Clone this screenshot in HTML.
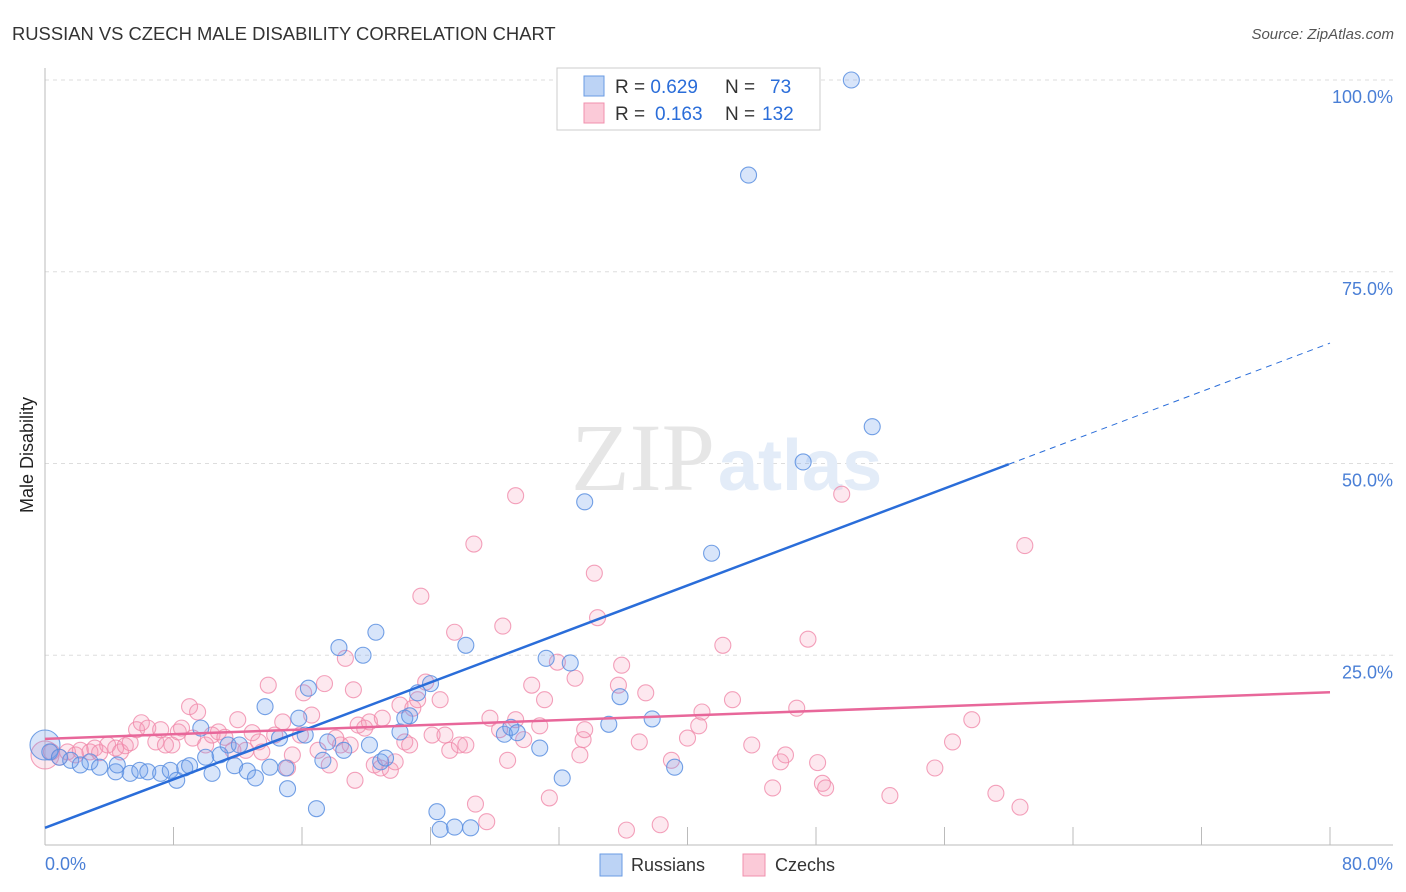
<!DOCTYPE html>
<html><head><meta charset="utf-8"><style>
body{margin:0;background:#fff;font-family:"Liberation Sans",sans-serif}
svg{display:block}
</style></head><body>
<svg id="chart" width="1406" height="892">
<text x="12" y="40" font-size="18.4" fill="#333">RUSSIAN VS CZECH MALE DISABILITY CORRELATION CHART</text>
<text x="1394" y="39" font-size="15" fill="#555" font-style="italic" text-anchor="end">Source: ZipAtlas.com</text>
<text x="33" y="455" font-size="18" fill="#222" text-anchor="middle" transform="rotate(-90 33 455)">Male Disability</text>
<g id="grid"></g>
<text x="715" y="490" font-size="96" fill="#e6e6e6" text-anchor="end" font-family="Liberation Serif,serif">ZIP</text>
<text x="718" y="490" font-size="72" fill="#e3ecf8" font-weight="bold">atlas</text>
<g id="pts"></g>
<g id="lines"></g>
<g>
<rect x="557" y="68" width="263" height="62" fill="#fff" stroke="#ccc"/>
<rect x="584" y="76" width="20" height="20" fill="#bcd3f5" stroke="#6a9be3"/>
<rect x="584" y="103" width="20" height="20" fill="#fbcad8" stroke="#f090ae"/>
<text x="615" y="93" font-size="19" fill="#333">R = <tspan fill="#2a6dd9">0.629</tspan><tspan x="725">N =</tspan><tspan x="770" fill="#2a6dd9">73</tspan></text>
<text x="615" y="120" font-size="19" fill="#333">R = <tspan x="655" fill="#2a6dd9">0.163</tspan><tspan x="725">N =</tspan><tspan x="762" fill="#2a6dd9">132</tspan></text>
</g>
<g>
<rect x="600" y="854" width="22" height="22" fill="#bcd3f5" stroke="#6a9be3"/>
<text x="631" y="871" font-size="18" fill="#333">Russians</text>
<rect x="743" y="854" width="22" height="22" fill="#fbcad8" stroke="#f090ae"/>
<text x="775" y="871" font-size="18" fill="#333">Czechs</text>
</g>
</svg>
<script>
const xTicks=[0,8,16,24,32,40,48,56,64,72,80];
const yTicks=[25,50,75,100];
const yTickLabels=["25.0%","50.0%","75.0%","100.0%"];
const xEndLabels=["0.0%","80.0%"];
const russiansX=[0,0.3,0.9,1.6,2.2,2.8,3.4,4.4,4.5,5.3,5.9,6.4,7.2,7.8,8.2,8.7,9.0,9.7,10.0,10.4,10.9,11.4,11.8,12.1,12.6,13.1,13.7,14.0,14.6,15.0,15.1,15.8,16.2,16.4,16.9,17.3,17.6,18.3,19.8,18.6,20.2,20.6,20.9,21.2,22.1,22.4,22.7,23.2,24.0,24.4,24.6,25.5,26.2,26.5,28.6,29.0,29.4,30.8,31.2,32.2,32.7,33.6,35.1,35.8,37.8,39.2,41.5,43.8,47.2,50.2,51.5];
const russiansY=[13.3,12.4,11.7,11.3,10.7,11.1,10.4,9.8,10.7,9.6,10.0,9.8,9.6,10.0,8.7,10.3,10.6,15.5,11.7,9.6,12.0,13.3,10.6,13.3,9.9,9.0,18.3,10.4,14.2,10.3,7.6,16.8,14.6,20.7,5.0,11.3,13.7,26.0,25.0,12.6,13.3,28.0,11.1,11.6,15.0,16.8,17.1,20.1,21.3,4.6,2.3,2.6,26.3,2.5,14.7,15.6,14.9,12.9,24.6,9.0,24.0,45.0,16.0,19.6,16.7,10.4,38.3,87.6,50.2,100,54.8];
const czechsX=[0,0.4,0.9,1.4,1.9,2.2,2.8,3.1,3.4,3.9,4.4,4.7,5.0,5.3,5.7,6.0,6.4,6.9,7.2,7.5,7.9,8.3,8.5,9.0,9.2,9.5,10.0,10.4,10.8,11.2,11.7,12.0,12.5,12.9,13.3,13.5,13.9,14.3,14.8,15.1,15.4,15.9,16.1,16.6,17.0,17.4,17.7,18.1,18.4,18.7,19.0,19.2,19.3,19.5,19.9,20.2,20.5,20.9,21.0,21.5,21.8,22.1,22.4,22.7,22.9,23.2,23.4,23.7,24.1,24.6,24.9,25.2,25.5,25.8,26.2,26.7,26.8,27.5,27.7,28.3,28.5,28.8,29.3,29.3,29.8,30.3,30.8,31.1,31.4,31.9,33.0,33.3,33.5,33.6,34.2,34.4,35.7,35.9,36.2,37.0,37.4,38.3,39.0,40.0,40.7,40.9,42.2,42.8,44.0,45.3,45.8,46.1,46.8,47.5,48.1,48.4,48.6,49.6,52.6,55.4,56.5,57.7,59.2,60.7,61.0];
const czechsY=[12.0,12.4,11.7,12.4,12.0,12.6,12.4,12.9,12.3,13.3,12.9,12.4,13.2,13.6,15.3,16.2,15.5,13.7,15.3,13.3,13.3,15.0,15.5,18.3,14.2,17.6,13.3,14.6,15.0,14.3,12.6,16.6,12.6,14.9,13.7,12.4,21.1,14.6,16.3,10.3,12.0,14.6,20.1,17.2,12.6,21.3,10.7,14.2,13.3,24.6,13.3,20.5,8.7,15.9,15.5,16.3,10.7,10.3,16.8,10.0,11.1,18.5,13.7,13.3,18.1,19.2,32.7,21.5,14.6,19.2,14.6,12.6,28.0,13.3,13.3,39.5,5.6,3.3,16.8,15.3,28.8,11.3,16.6,45.8,14.0,21.1,15.8,19.2,6.4,24.1,22.0,12.0,14.0,15.3,35.7,29.9,21.1,23.7,2.2,13.7,20.1,2.9,11.3,14.2,15.8,17.6,26.3,19.2,13.3,7.7,11.1,12.0,18.1,27.1,11.0,8.3,7.7,46.0,6.7,10.3,13.7,16.6,7.0,5.2,39.3];
const russiansFit=[2.5,0.79];
const czechsFit=[14.1,0.076];
const NS="http://www.w3.org/2000/svg";
const X0=45,X1=1330,Y0=847,PY=7.67;
function sx(v){return X0+(v/80)*(X1-X0);}
function sy(v){return Y0-v*PY;}
function mk(tag,attrs,parent){const e=document.createElementNS(NS,tag);for(const k in attrs)e.setAttribute(k,attrs[k]);parent.appendChild(e);return e;}
const grid=document.getElementById('grid');
yTicks.forEach((t,i)=>{
 const l=mk('line',{x1:X0,x2:1393,y1:sy(t),y2:sy(t),stroke:'#ddd','stroke-dasharray':'4,4'},grid);
 
 
 const tx=mk('text',{x:1393,y:sy(t)+23,'font-size':18,fill:'#4a7fd6','text-anchor':'end'},grid);
 tx.textContent=yTickLabels[i];
 
 
});
const ax=mk('line',{x1:X0,x2:X0,y1:68,y2:845,stroke:'#bbb'},grid);


const bx=mk('line',{x1:X0,x2:1393,y1:845,y2:845,stroke:'#bbb'},grid);


xTicks.forEach(t=>{
 const l=mk('line',{x1:sx(t),x2:sx(t),y1:827,y2:845,stroke:'#bbb'},grid);
 
 
});
const xl0=mk('text',{x:45,y:870,'font-size':18,fill:'#4a7fd6'},grid);
xl0.textContent=xEndLabels[0];


const xl1=mk('text',{x:1393,y:870,'font-size':18,fill:'#4a7fd6','text-anchor':'end'},grid);
xl1.textContent=xEndLabels[1];


const pts=document.getElementById('pts');
czechsX.forEach((x,i)=>{
 const c=mk('circle',{cx:sx(x),cy:sy(czechsY[i]),r:i===0?14:8,fill:'rgba(244,150,180,0.22)',stroke:'rgba(240,138,170,0.8)','stroke-width':1.1},pts);
 
 
});
russiansX.forEach((x,i)=>{
 const c=mk('circle',{cx:sx(x),cy:sy(russiansY[i]),r:i===0?15:8,fill:'rgba(110,160,235,0.27)',stroke:'rgba(90,143,224,0.85)','stroke-width':1.1},pts);
 
 
});
const lines=document.getElementById('lines');
const f=(fit,x)=>fit[0]+fit[1]*x;
const bl=mk('line',{x1:sx(0),y1:sy(f(russiansFit,0)),x2:sx(60),y2:sy(f(russiansFit,60)),stroke:'#2a6dd9','stroke-width':2.5},lines);


const bd=mk('line',{x1:sx(60),y1:sy(f(russiansFit,60)),x2:sx(80),y2:sy(f(russiansFit,80)),stroke:'#2a6dd9','stroke-width':1,'stroke-dasharray':'6,5'},lines);


const pl=mk('line',{x1:sx(0),y1:sy(f(czechsFit,0)),x2:sx(80),y2:sy(f(czechsFit,80)),stroke:'#e8679a','stroke-width':2.5},lines);


</script>
</body></html>
